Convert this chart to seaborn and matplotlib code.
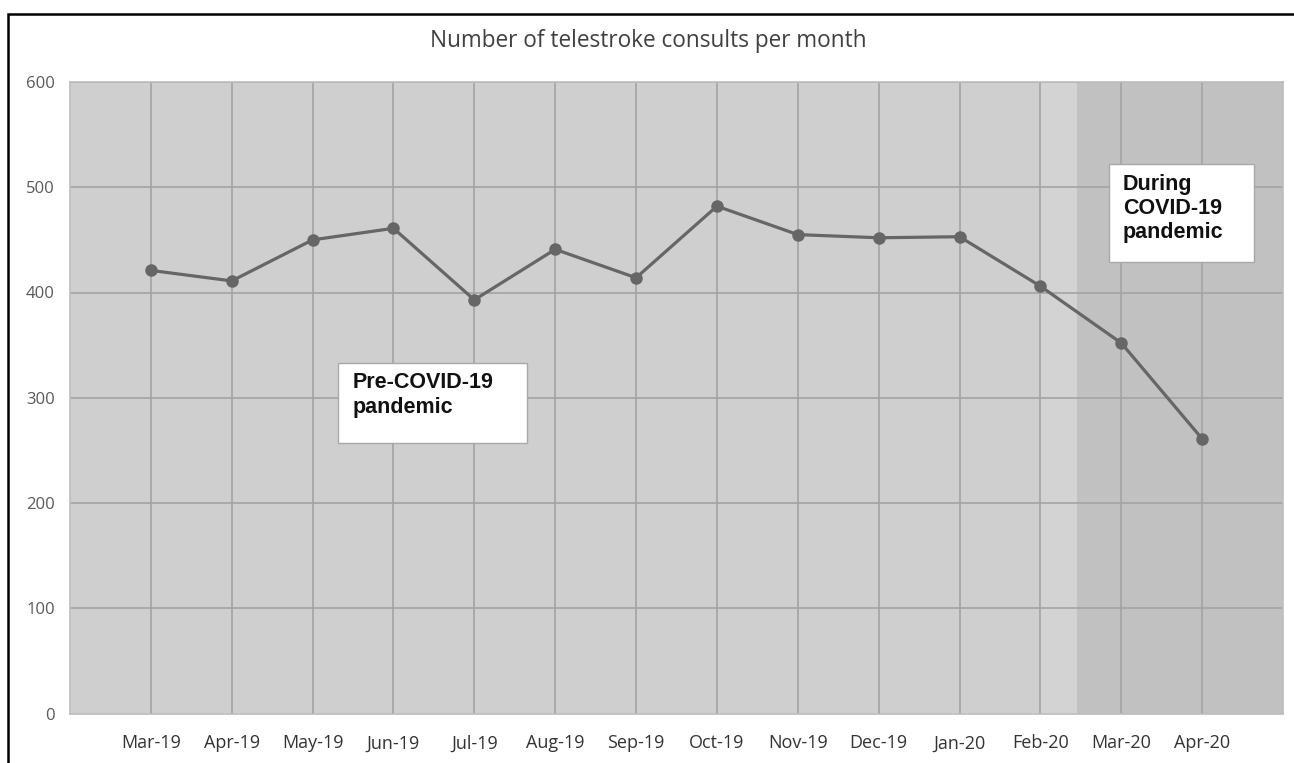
import seaborn as sns
import matplotlib.pyplot as plt
from matplotlib.patches import Rectangle
import pandas as pd
import numpy as np

# Data
months = ['Mar-19', 'Apr-19', 'May-19', 'Jun-19', 'Jul-19', 'Aug-19', 'Sep-19',
          'Oct-19', 'Nov-19', 'Dec-19', 'Jan-20', 'Feb-20', 'Mar-20', 'Apr-20']
consults = [421, 411, 450, 461, 393, 441, 414, 482, 455, 452, 453, 406, 352, 261]
y_ticks = [0, 100, 200, 300, 400, 500, 600]
title = 'Number of telestroke consults per month'
pre_label = 'Pre-COVID-19\npandemic'
during_label = 'During\nCOVID-19\npandemic'

df = pd.DataFrame({'pos': np.arange(len(months)), 'consults': consults})

sns.set_style('white')
plt.rcParams['font.family'] = ['Open Sans', 'DejaVu Sans']

fig = plt.figure(figsize=(12.94, 7.63), dpi=100)
ax = fig.add_axes([70 / 1294, 1 - 713.5 / 763, (1283 - 70) / 1294, (713.5 - 82) / 763])

# background + shaded pandemic period
ax.set_facecolor('#cfcfcf')
ax.axvspan(11, 11.45, color='#d3d3d3', lw=0, zorder=0)
ax.axvspan(11.45, 14, color='#c1c1c1', lw=0, zorder=0)

# grid
for yv in y_ticks[1:]:
    ax.axhline(yv, color='#a3a3a3', lw=1.2, zorder=1)
for xv in df['pos']:
    ax.axvline(xv, color='#a3a3a3', lw=1.2, zorder=1)

sns.lineplot(data=df, x='pos', y='consults', ax=ax, color='#666666', lw=2.3,
             marker='o', markersize=9, markeredgewidth=0, zorder=3)

ax.set_xlim(-1, 14)
ax.set_ylim(0, 600)
ax.set_yticks(y_ticks)
ax.set_yticklabels([str(v) for v in y_ticks], fontsize=12, color='#595959')
ax.set_xticks(df['pos'])
ax.set_xticklabels(months, fontsize=13, color='#333333')
ax.tick_params(axis='y', length=0, pad=11)
ax.tick_params(axis='x', length=0, pad=15)
ax.set_xlabel('')
ax.set_ylabel('')
for s in ax.spines.values():
    s.set_color('#bdbdbd')
    s.set_linewidth(1.2)

# annotation boxes
bold = ['Liberation Sans', 'DejaVu Sans']
ax.add_patch(Rectangle((2.31, 257), 2.34, 76, facecolor='white',
                       edgecolor='#a8a8a8', lw=1, zorder=4))
ax.text(2.50, 324, pre_label, fontsize=15.5, fontweight='bold', va='top', ha='left',
        family=bold, linespacing=1.2, color='#111111', zorder=5)

ax.add_patch(Rectangle((11.85, 429), 1.79, 93.5, facecolor='white',
                       edgecolor='#a8a8a8', lw=1, zorder=4))
ax.text(12.02, 513, during_label, fontsize=15.5, fontweight='bold', va='top', ha='left',
        family=bold, linespacing=1.2, color='#111111', zorder=5)

fig.text(648 / 1294, 1 - 41 / 763, title, fontsize=16.3, color='#404040', ha='center', va='center')

# outer frame of the figure
fig.patches.append(Rectangle((7.5 / 1294, -0.1), 1.2, 1.1 - 13.5 / 763, transform=fig.transFigure,
                             fill=False, edgecolor='black', lw=1.8))

fig.savefig('out.png', dpi=100)
